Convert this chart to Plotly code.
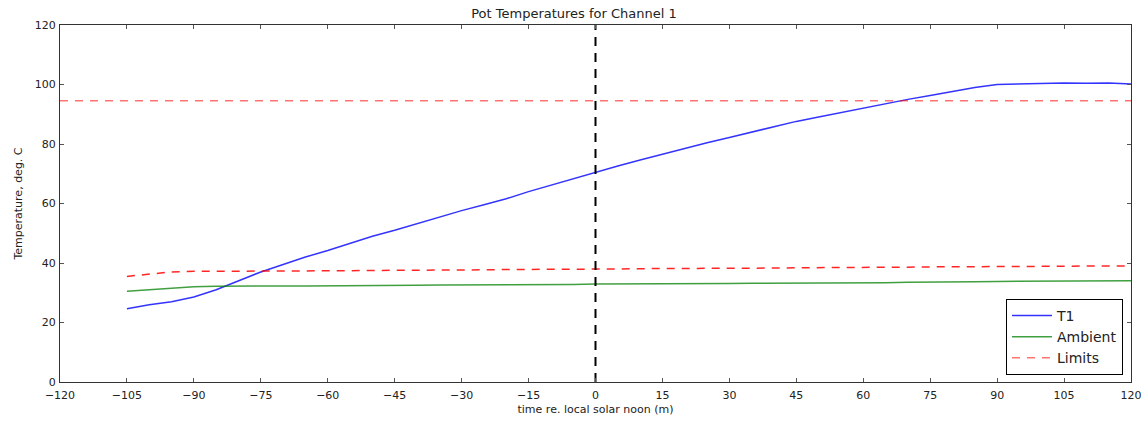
import plotly.graph_objects as go

time = [-105, -100, -95, -90, -85, -80, -75, -70, -65, -60, -55, -50, -45, -40, -35, -30,
        -25, -20, -15, -10, -5, 0, 5, 10, 15, 20, 25, 30, 35, 40, 45, 50, 55, 60, 65, 70,
        75, 80, 85, 90, 95, 100, 105, 110, 115, 120]
t1 = [24.6, 26.0, 27.0, 28.6, 31.0, 34.0, 37.0, 39.5, 42.0, 44.2, 46.5, 49.0, 51.0, 53.2,
      55.5, 57.6, 59.6, 61.6, 64.0, 66.2, 68.4, 70.6, 72.6, 74.6, 76.6, 78.5, 80.4, 82.2,
      84.0, 86.0, 87.6, 89.1, 90.6, 92.0, 93.5, 95.0, 96.3, 97.6, 99.0, 100.0, 100.2, 100.4,
      100.5, 100.4, 100.5, 100.2]
ambient = [30.5, 31.0, 31.5, 32.0, 32.2, 32.3, 32.3, 32.3, 32.3, 32.3, 32.4, 32.4, 32.5, 32.5,
           32.6, 32.6, 32.7, 32.7, 32.8, 32.8, 32.8, 32.9, 32.9, 33.0, 33.0, 33.1, 33.1, 33.1,
           33.2, 33.2, 33.2, 33.2, 33.3, 33.3, 33.4, 33.5, 33.5, 33.6, 33.7, 33.8, 33.8, 33.9,
           33.9, 34.0, 34.0, 34.0]
limit_low = [35.5, 36.2, 37.0, 37.2, 37.2, 37.3, 37.3, 37.3, 37.4, 37.4, 37.4, 37.5, 37.5, 37.6,
             37.6, 37.7, 37.7, 37.8, 37.8, 37.9, 37.9, 38.0, 38.0, 38.1, 38.1, 38.2, 38.2, 38.2,
             38.3, 38.3, 38.4, 38.4, 38.5, 38.5, 38.6, 38.6, 38.7, 38.7, 38.8, 38.8, 38.8, 38.9,
             38.9, 39.0, 39.0, 39.0]
limit_high_x = [-120, 120]
limit_high = [94.5, 94.5]
noon_x = [0, 0]
noon_y = [0, 120]
x_ticks = [-120, -105, -90, -75, -60, -45, -30, -15, 0, 15, 30, 45, 60, 75, 90, 105, 120]
x_tick_labels = ["\u2212120", "\u2212105", "\u221290", "\u221275", "\u221260", "\u221245",
                 "\u221230", "\u221215", "0", "15", "30", "45", "60", "75", "90", "105", "120"]
y_ticks = [0, 20, 40, 60, 80, 100, 120]

fig = go.Figure()
fig.add_trace(go.Scatter(x=time, y=t1, mode="lines", name="T1",
                         line=dict(color="rgba(0,0,255,0.8)", width=1.5)))
fig.add_trace(go.Scatter(x=time, y=ambient, mode="lines", name="Ambient",
                         line=dict(color="rgba(0,128,0,0.75)", width=1.5)))
fig.add_trace(go.Scatter(x=limit_high_x, y=limit_high, mode="lines", name="Limits",
                         line=dict(color="rgba(255,0,0,0.55)", width=1.5, dash="8px,7px")))
fig.add_trace(go.Scatter(x=time, y=limit_low, mode="lines", name="Limits", showlegend=False,
                         line=dict(color="rgba(255,0,0,0.85)", width=1.5, dash="8px,7px")))
fig.add_trace(go.Scatter(x=noon_x, y=noon_y, mode="lines", showlegend=False,
                         line=dict(color="black", width=2, dash="9px,7px")))

axis_common = dict(showline=True, linecolor="#333", linewidth=1, mirror="ticks",
                   ticks="inside", ticklen=4, tickcolor="#555", showgrid=False,
                   zeroline=False, automargin=False,
                   tickfont=dict(family="DejaVu Sans", size=11, color="#222"))

fig.update_layout(
    width=1148, height=423,
    margin=dict(l=60, r=17, t=25, b=41),
    paper_bgcolor="white", plot_bgcolor="white",
    title=dict(text="Pot Temperatures for Channel 1", x=0.5, xanchor="center",
               y=1 - 13 / 423, yanchor="middle",
               font=dict(family="DejaVu Sans", size=13, color="#222")),
    xaxis=dict(range=[-120, 120], tickvals=x_ticks, ticktext=x_tick_labels,
               ticklabelstandoff=3,
               title=dict(text="time re. local solar noon (m)", standoff=4,
                          font=dict(family="DejaVu Sans", size=11, color="#222")),
               **axis_common),
    yaxis=dict(range=[0, 120], tickvals=y_ticks, ticklabelstandoff=1,
               title=dict(text="Temperature, deg. C", standoff=9,
                          font=dict(family="DejaVu Sans", size=11, color="#222")),
               **axis_common),
    legend=dict(x=0.9925, y=0.02, xanchor="right", yanchor="bottom",
                bordercolor="black", borderwidth=1, bgcolor="white",
                font=dict(family="DejaVu Sans", size=14, color="#222"),
                itemwidth=40, tracegroupgap=0),
    showlegend=True,
)

fig.write_html("out.html")
